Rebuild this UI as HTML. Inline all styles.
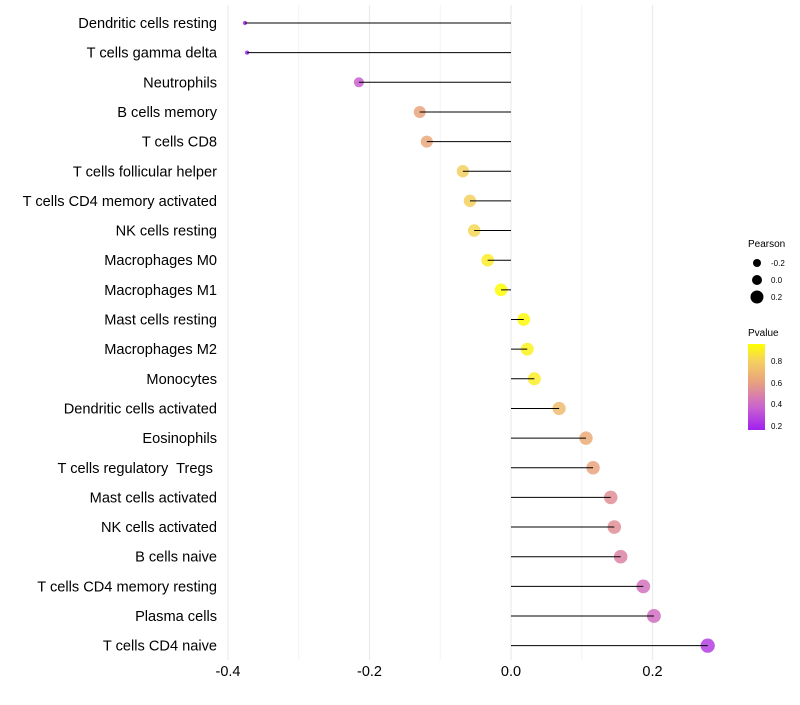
<!DOCTYPE html>
<html><head><meta charset="utf-8"><style>
body{margin:0;background:#fff;font-family:"Liberation Sans",sans-serif}
svg text{font-family:"Liberation Sans",sans-serif}
</style></head><body>
<svg id="chart" width="800" height="700" xmlns="http://www.w3.org/2000/svg">
<defs><linearGradient id="pg" x1="0" y1="1" x2="0" y2="0">
<stop offset="0" stop-color="#A020F0"/><stop offset="0.28" stop-color="#CC66CC"/><stop offset="0.55" stop-color="#E8A080"/><stop offset="0.8" stop-color="#F5D060"/><stop offset="1" stop-color="#FFFF00"/>
</linearGradient></defs>
<g id="grid"></g>
<g id="marks"></g>
<g id="ylabels"></g>
<g id="xlabels"></g>
<g>
<text x="748" y="247" font-size="10">Pearson</text>
<circle cx="757" cy="263" r="4" fill="#000"/><text x="771" y="266" font-size="8">-0.2</text>
<circle cx="757" cy="280" r="5" fill="#000"/><text x="771" y="283" font-size="8">0.0</text>
<circle cx="757" cy="297" r="6.5" fill="#000"/><text x="771" y="300" font-size="8">0.2</text>
</g>
<g>
<text x="748" y="336" font-size="10">Pvalue</text>
<rect x="748" y="344" width="17" height="86" fill="url(#pg)"/>
<text x="771" y="364" font-size="8">0.8</text><text x="771" y="386" font-size="8">0.6</text>
<text x="771" y="407" font-size="8">0.4</text><text x="771" y="429" font-size="8">0.2</text>
</g>
</svg>
<script>
const cells=["Dendritic cells resting","T cells gamma delta","Neutrophils","B cells memory","T cells CD8","T cells follicular helper","T cells CD4 memory activated","NK cells resting","Macrophages M0","Macrophages M1","Mast cells resting","Macrophages M2","Monocytes","Dendritic cells activated","Eosinophils","T cells regulatory  Tregs ","Mast cells activated","NK cells activated","B cells naive","T cells CD4 memory resting","Plasma cells","T cells CD4 naive"];
const pearson=[-0.376,-0.373,-0.215,-0.129,-0.119,-0.068,-0.058,-0.052,-0.033,-0.014,0.018,0.023,0.033,0.068,0.106,0.116,0.141,0.146,0.155,0.187,0.202,0.278];
const pvalue=[0.2,0.2,0.4,0.63,0.65,0.8,0.8,0.82,0.9,0.96,0.95,0.92,0.9,0.72,0.66,0.63,0.56,0.56,0.52,0.46,0.45,0.3];
const xTicks=[-0.4,-0.2,0.0,0.2];
const xMinor=[-0.3,-0.1,0.1];
const NS="http://www.w3.org/2000/svg";
const X=v=>511+v*707.5;
const Y=i=>23+i*29.65;
const rs=[[-0.38,2],[-0.3,3.5],[-0.215,5],[-0.13,6],[0,6.4],[0.3,7.2]];
function R(v){for(let k=0;k<rs.length-1;k++){const[a,ra]=rs[k],[b,rb]=rs[k+1];if(v<=b)return ra+(rb-ra)*Math.max(0,(v-a)/(b-a));}return 7.2;}
function lerp(a,b,t){return Math.round(a+(b-a)*t);}
const stops=[[0.2,[160,32,240]],[0.42,[204,102,204]],[0.62,[232,160,128]],[0.8,[245,208,96]],[0.97,[255,255,0]]];
function col(p){p=Math.max(0.2,Math.min(0.97,p));for(let k=0;k<stops.length-1;k++){const[a,ca]=stops[k],[b,cb]=stops[k+1];if(p<=b){const t=(p-a)/(b-a);return `rgb(${lerp(ca[0],cb[0],t)},${lerp(ca[1],cb[1],t)},${lerp(ca[2],cb[2],t)})`;}}return "rgb(255,255,0)";}
function mk(t,a,p){const e=document.createElementNS(NS,t);for(const k in a)e.setAttribute(k,a[k]);p.appendChild(e);return e;}
const grid=document.getElementById('grid'),marks=document.getElementById('marks'),yl=document.getElementById('ylabels'),xl=document.getElementById('xlabels');
xMinor.forEach(v=>{const l=mk('line',{x1:X(v),x2:X(v),y1:5,y2:660,stroke:'#f3f3f3','stroke-width':1},grid);

});
xTicks.forEach(v=>{const l=mk('line',{x1:X(v),x2:X(v),y1:5,y2:660,stroke:'#ebebeb','stroke-width':1.2},grid);


const t=mk('text',{x:X(v),y:676,'font-size':14.5,'text-anchor':'middle',fill:'#000'},xl);t.textContent=v.toFixed(1);

});
cells.forEach((c,i)=>{const y=Y(i);
const cc=mk('circle',{cx:X(pearson[i]),cy:y,r:R(pearson[i]),fill:col(pvalue[i]),'fill-opacity':0.85},marks);


const s=mk('line',{x1:X(0),x2:X(pearson[i]),y1:y,y2:y,stroke:'#000','stroke-width':1},marks);


const t=mk('text',{x:217,y:y+5,'font-size':14.6,'text-anchor':'end',fill:'#000'},yl);t.textContent=c;t.setAttribute('xml:space','preserve');t.style.whiteSpace='pre';

});
</script>
</body></html>
